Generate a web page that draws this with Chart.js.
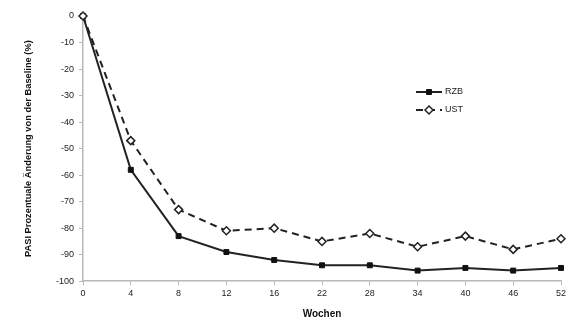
<!DOCTYPE html>
<html>
<head>
<meta charset="utf-8">
<script src="https://cdn.jsdelivr.net/npm/chart.js@4/dist/chart.umd.min.js"></script>
<style>
  html, body { margin: 0; padding: 0; background: #fff; }
  #wrap { width: 584px; height: 334px; position: relative; }
</style>
</head>
<body>
<div id="wrap"><canvas id="chart" width="584" height="334"></canvas></div>
<script>
const weeks = ['0', '4', '8', '12', '16', '22', '28', '34', '40', '46', '52'];
const rzbValues = [0, -58, -83, -89, -92, -94, -94, -96, -95, -96, -95];
const ustValues = [0, -47, -73, -81, -80, -85, -82, -87, -83, -88, -84];
const seriesNames = ['RZB', 'UST'];

const axisColor = '#b8b8b8';
const inkColor = '#222';

// legend with line + marker, like the original
const lineLegend = {
    id: 'lineLegend',
    afterDraw(chart) {
        const ctx = chart.ctx;
        const x0 = 416, x1 = 442, rows = [92, 110];
        chart.data.datasets.forEach((ds, i) => {
            const y = rows[i];
            ctx.save();
            ctx.strokeStyle = ds.borderColor;
            ctx.lineWidth = 2;
            ctx.setLineDash(ds.borderDash || []);
            ctx.beginPath();
            ctx.moveTo(x0, y);
            ctx.lineTo(x1, y);
            ctx.stroke();
            ctx.setLineDash([]);
            ctx.fillStyle = ds.pointBackgroundColor;
            ctx.strokeStyle = ds.pointBorderColor;
            ctx.lineWidth = ds.pointBorderWidth;
            Chart.helpers.drawPoint(ctx, {
                pointStyle: ds.pointStyle,
                radius: ds.pointRadius,
                borderWidth: ds.pointBorderWidth
            }, (x0 + x1) / 2, y);
            ctx.fillStyle = inkColor;
            ctx.font = '9px "Liberation Sans", Arial, sans-serif';
            ctx.textBaseline = 'middle';
            ctx.fillText(ds.label, x1 + 3, y);
            ctx.restore();
        });
    }
};

new Chart(document.getElementById('chart'), {
    type: 'line',
    data: {
        labels: weeks,
        datasets: [{
            label: seriesNames[0],
            data: rzbValues,
            order: 2,
            clip: false,
            borderColor: inkColor,
            borderWidth: 2,
            pointStyle: 'rect',
            pointRadius: 3.5,
            pointBackgroundColor: '#111',
            pointBorderColor: '#111',
            pointBorderWidth: 1,
            tension: 0
        }, {
            label: seriesNames[1],
            data: ustValues,
            order: 1,
            clip: false,
            borderColor: inkColor,
            borderWidth: 2,
            borderDash: [7, 5],
            pointStyle: 'rectRot',
            pointRadius: 4,
            pointBackgroundColor: '#fff',
            pointBorderColor: inkColor,
            pointBorderWidth: 1.5,
            tension: 0
        }]
    },
    options: {
        responsive: false,
        animation: false,
        layout: { padding: { top: 16, right: 23, left: 0, bottom: 14 } },
        plugins: {
            legend: { display: false },
            tooltip: { enabled: false }
        },
        scales: {
            x: {
                type: 'category',
                offset: false,
                border: { color: axisColor, width: 1.5 },
                grid: { drawOnChartArea: false, drawTicks: true, tickLength: 4, color: axisColor },
                ticks: {
                    color: inkColor,
                    padding: 3,
                    maxRotation: 0,
                    autoSkip: false,
                    font: { family: '"Liberation Sans", Arial, sans-serif', size: 9 }
                },
                title: {
                    display: true,
                    text: 'Wochen',
                    color: '#111',
                    padding: { top: 6, bottom: 0 },
                    font: { family: '"Liberation Sans", Arial, sans-serif', size: 10, weight: 'bold' }
                }
            },
            y: {
                min: -100,
                max: 0,
                border: { color: axisColor, width: 1.5 },
                grid: { drawOnChartArea: false, drawTicks: true, tickLength: 4, color: axisColor },
                ticks: {
                    stepSize: 10,
                    color: inkColor,
                    padding: 5,
                    font: { family: '"Liberation Sans", Arial, sans-serif', size: 9 }
                },
                title: {
                    display: true,
                    text: 'PASI Prozentuale Änderung von der Baseline (%)',
                    color: '#111',
                    padding: { top: 23, bottom: 0 },
                    font: { family: '"Liberation Sans", Arial, sans-serif', size: 9.3, weight: 'bold' }
                },
                afterFit(scale) { scale.width = 83; }
            }
        }
    },
    plugins: [lineLegend]
});
</script>
</body>
</html>
